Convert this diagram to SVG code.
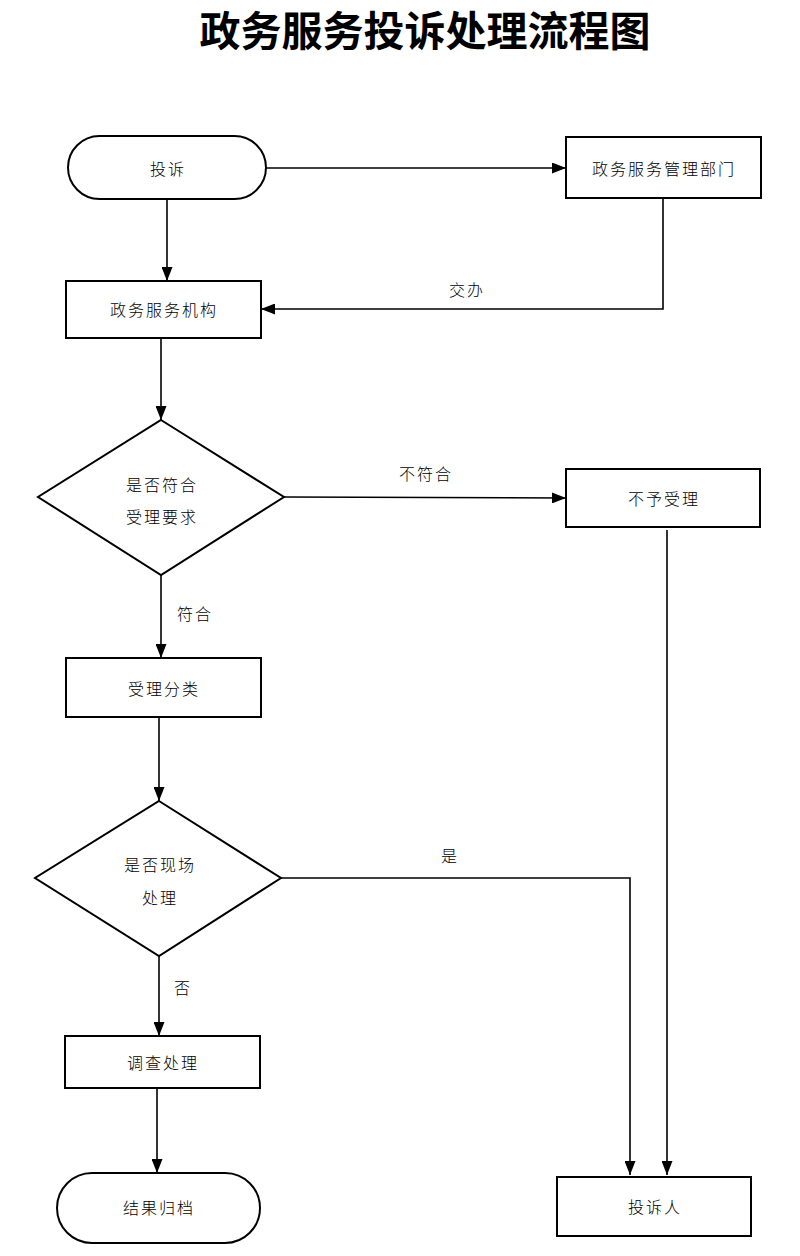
<svg xmlns="http://www.w3.org/2000/svg" width="800" height="1256" viewBox="0 0 800 1256">
<defs>
<marker id="arr" viewBox="0 0 14 11" refX="14" refY="5.5" markerWidth="14" markerHeight="11" markerUnits="userSpaceOnUse" orient="auto">
<path d="M0,0 L14,5.5 L0,11 Z" fill="#000"/>
</marker>
</defs>
<style>
.shape{fill:#fff;stroke:#000;stroke-width:2}
.lbl{font-family:"Noto Sans CJK SC","Liberation Sans",sans-serif;font-size:16px;fill:#000;text-anchor:middle;dominant-baseline:central;font-weight:300;letter-spacing:2px}
.title{font-family:"Noto Sans CJK SC","Liberation Sans",sans-serif;font-size:41px;font-weight:bold;fill:#000;text-anchor:middle}
.edge{fill:none;stroke:#000;stroke-width:1.6;marker-end:url(#arr)}
</style>
<rect width="800" height="1256" fill="#fff"/>
<text class="title" x="425" y="46">政务服务投诉处理流程图</text>

<g id="connectors">
<path class="edge" d="M266,168 L566,168"/>
<path class="edge" d="M167,199 L167,281"/>
<path class="edge" d="M663,198 L663,309 L261,309"/>
<text class="lbl" x="467" y="289">交办</text>
<path class="edge" d="M161,338 L161,420"/>
<path class="edge" d="M284,497 L566,498"/>
<text class="lbl" x="426" y="473">不符合</text>
<path class="edge" d="M161,575 L161,658"/>
<text class="lbl" x="195" y="613">符合</text>
<path class="edge" d="M159,717 L159,801"/>
<path class="edge" d="M281,878 L630,878 L630,1175"/>
<text class="lbl" x="450" y="855">是</text>
<path class="edge" d="M667,530 L667,1175"/>
<path class="edge" d="M159,956 L159,1036"/>
<text class="lbl" x="183" y="987">否</text>
<path class="edge" d="M157,1088 L157,1173"/>
</g>

<g id="n-start">
<rect class="shape" x="68" y="136" width="198" height="63" rx="31.5"/>
<text class="lbl" x="168" y="168">投诉</text>
</g>
<g id="n-mgmt">
<rect class="shape" x="566" y="137" width="195" height="61"/>
<text class="lbl" x="664" y="168">政务服务管理部门</text>
</g>
<g id="n-org">
<rect class="shape" x="66" y="281" width="195" height="57"/>
<text class="lbl" x="164" y="309">政务服务机构</text>
</g>
<g id="n-check">
<polygon class="shape" points="161,420 284,497 161,575 38,497"/>
<text class="lbl" x="162" y="484">是否符合</text>
<text class="lbl" x="162" y="516">受理要求</text>
</g>
<g id="n-reject">
<rect class="shape" x="566" y="469" width="194" height="58"/>
<text class="lbl" x="664" y="498">不予受理</text>
</g>
<g id="n-classify">
<rect class="shape" x="66" y="658" width="195" height="59"/>
<text class="lbl" x="164" y="688">受理分类</text>
</g>
<g id="n-onsite">
<polygon class="shape" points="159,801 281,878 159,956 35,878"/>
<text class="lbl" x="160" y="864">是否现场</text>
<text class="lbl" x="160" y="897">处理</text>
</g>
<g id="n-investigate">
<rect class="shape" x="65" y="1036" width="195" height="52"/>
<text class="lbl" x="163" y="1062">调查处理</text>
</g>
<g id="n-archive">
<rect class="shape" x="57" y="1173" width="203" height="70" rx="35"/>
<text class="lbl" x="159" y="1207">结果归档</text>
</g>
<g id="n-complainant">
<rect class="shape" x="557" y="1177" width="194" height="59"/>
<text class="lbl" x="655" y="1206">投诉人</text>
</g>
</svg>
